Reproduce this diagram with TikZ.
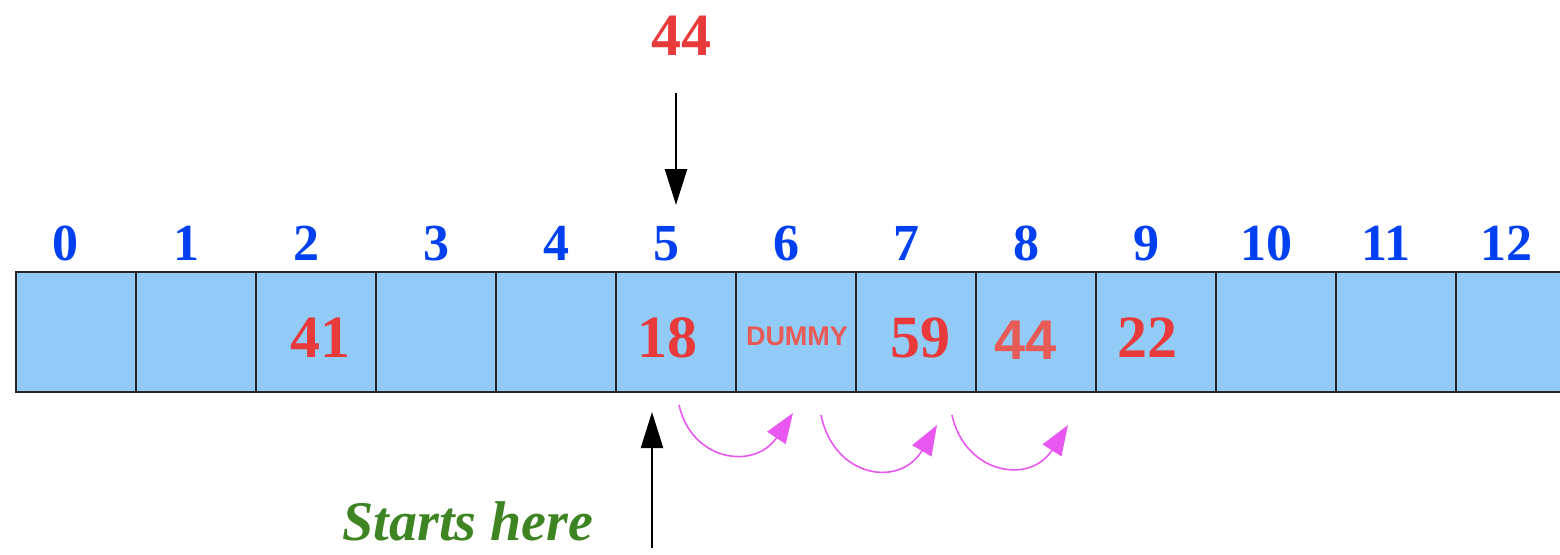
\documentclass[tikz,border=0pt]{standalone}
\usepackage{fontspec}
\setmainfont{Liberation Serif}
\newfontfamily\lsans{Liberation Sans}
\usetikzlibrary{arrows.meta}
\definecolor{cellfill}{RGB}{146,204,246}
\definecolor{idxblue}{RGB}{0,64,240}
\definecolor{valred}{RGB}{232,58,58}
\definecolor{lightred}{RGB}{232,90,85}
\definecolor{arcpink}{RGB}{232,88,240}
\definecolor{startgreen}{RGB}{62,132,34}
\tikzset{
  cell/.style={draw=black!85, line width=1pt, fill=cellfill, minimum width=60pt, minimum height=60pt, inner sep=0pt, outer sep=0pt},
  idx/.style={text=idxblue, font=\fontsize{26}{28}\selectfont\bfseries, inner sep=0pt, anchor=base},
  val/.style={text=valred, font=\fontsize{30}{32}\selectfont\bfseries, inner sep=0pt},
  blackarrow/.style={line width=1.2pt, -{Triangle[length=18pt,width=11pt]}},
  pinkarrow/.style={draw=arcpink, line width=0.8pt, -{Triangle[length=15pt,width=11pt]}},
}
\begin{document}
\begin{tikzpicture}[x=0.5pt,y=-0.5pt]
\useasboundingbox (0,0) rectangle (1560,554);
% cells
\foreach \i in {0,...,12} {
  \node[cell] (c\i) at ({75.5+120*\i},332) {};
}
\foreach \i/\x in {0/66,1/186,2/306,3/436,4/556,5/666,6/786,7/906,8/1026,9/1146,10/1266,11/1386,12/1506} {
  \node[idx] (lab\i) at (\x,260) {\i};
}
% values
\node[val] (v2) at (320,338) {41};
\node[val] (v5) at (667,338) {18};
\node[text=lightred, font=\lsans\fontsize{13.5}{16}\selectfont\bfseries, inner sep=0pt] (v6) at (797,336) {DUMMY};
\node[val] (v7) at (920,338) {59};
\node[text=lightred, font=\lsans\fontsize{28}{30}\selectfont\bfseries, inner sep=0pt] (v8) at (1026,340) {44};
\node[val] (v9) at (1147,338) {22};
% top key
\node[val] (key) at (681,36) {44};
\coordinate (kstart) at (676,93);
\coordinate (kend) at (676,205);
\draw[blackarrow] (kstart) -- (kend);
% starts here
\node[text=startgreen, font=\fontsize{28}{30}\selectfont\bfseries\itshape, inner sep=0pt] (start) at (468,521) {Starts here};
\coordinate (sstart) at (652,548);
\coordinate (send) at (652,412);
\draw[blackarrow] (sstart) -- (send);
% probing arcs
\coordinate (p1a) at (679,405);
\coordinate (p1b) at (793,413);
\coordinate (p2a) at (821,415);
\coordinate (p2b) at (937,425);
\coordinate (p3a) at (952,415);
\coordinate (p3b) at (1068,425);
\draw[pinkarrow] (p1a) .. controls (692,462) and (755,470) .. (p1b);
\draw[pinkarrow] (p2a) .. controls (834,478) and (900,488) .. (p2b);
\draw[pinkarrow] (p3a) .. controls (965,474) and (1030,485) .. (p3b);
\end{tikzpicture}
\end{document}
